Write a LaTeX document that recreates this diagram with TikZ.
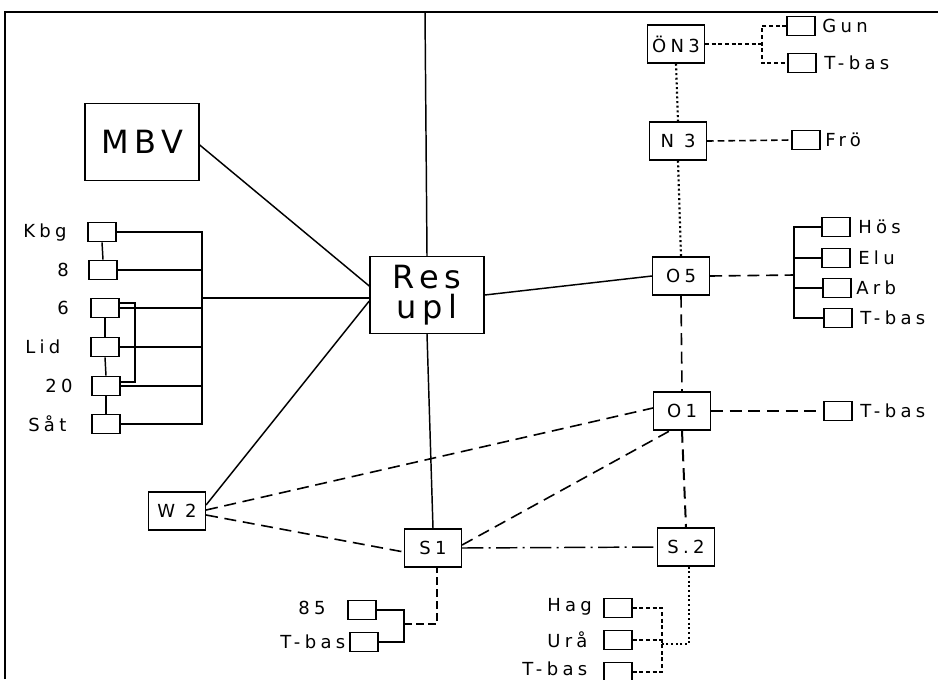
\documentclass[tikz,border=0pt]{standalone}
\usepackage{fontspec}
\usetikzlibrary{calc}
\newfontfamily\plotfont[LetterSpace=24]{DejaVu Sans}
\newfontfamily\plotbig[LetterSpace=18]{DejaVu Sans}
\begin{document}
\begin{tikzpicture}[x=0.75pt,y=-0.75pt,
  box/.style={draw,line width=1.1pt,inner sep=0pt,font=\plotfont\fontsize{13.5}{13.5}\selectfont},
  big/.style={box,minimum width=85.5pt,minimum height=57.5pt,font=\plotbig\fontsize{24}{23}\selectfont},
  mid/.style={box,minimum width=42.5pt,minimum height=28.5pt},
  sm/.style={draw,line width=1pt,minimum width=21pt,minimum height=14.5pt,inner sep=0pt},
  lbl/.style={inner sep=0pt,anchor=west,font=\plotfont\fontsize{13.5}{13.5}\selectfont},
  ln/.style={line width=1.1pt},
  dsh/.style={line width=1.2pt,dash pattern=on 9pt off 5pt},
  dot/.style={line width=1.6pt,dash pattern=on 1.5pt off 2pt},
  sdsh/.style={line width=1.2pt,dash pattern=on 3pt off 2pt},
  dd/.style={line width=1.1pt,dash pattern=on 16pt off 4pt on 1.5pt off 4pt}]
\useasboundingbox (0,0) rectangle (938,679);
\fill[white] (0,0) rectangle (938,679);
% frame
\coordinate (fbl) at (5,679);
\coordinate (ftl) at (5,12);
\coordinate (ftr) at (938,12);
\draw[line width=1.8pt] (fbl) -- (ftl) -- (ftr);

% main nodes
\node[big] (mbv) at (142,142) {MBV};
\node[big,align=center] (res) at (427,295) {Res\\upl};
\node[mid] (on3) at (676,44) {ÖN3};
\node[mid] (n3) at (678,141) {N 3};
\node[mid] (o5) at (681,276) {O5};
\node[mid] (o1) at (682,411) {O1};
\node[mid] (s2) at (686,547) {S.2};
\node[mid] (s1) at (433,548) {S1};
\node[mid] (w2) at (177,511) {W 2};

% right small boxes
\node[sm] (gun) at (801,26) {};   \node[lbl] (gunl) at (822,26) {Gun};
\node[sm] (tba) at (802,63) {};   \node[lbl] (tbal) at (824,63) {T-bas};
\node[sm] (fro) at (806,140) {};  \node[lbl] (frol) at (825,140) {Frö};
\node[sm] (hos) at (836,227) {};  \node[lbl] (hosl) at (858,227) {Hös};
\node[sm] (elu) at (836,258) {};  \node[lbl] (elul) at (858,258) {Elu};
\node[sm] (arb) at (837,288) {};  \node[lbl] (arbl) at (856,288) {Arb};
\node[sm] (tbb) at (838,318) {};  \node[lbl] (tbbl) at (860,318) {T-bas};
\node[sm] (tbc) at (838,411) {};  \node[lbl] (tbcl) at (860,411) {T-bas};

% left cluster
\node[sm] (kbg) at (102,232) {};  \node[lbl] (kbgl) at (23,233) {Kbg};
\node[sm] (b8) at (103,270) {};   \node[lbl] (b8l) at (57,270) {8};
\node[sm] (b6) at (105,308) {};   \node[lbl] (b6l) at (57,308) {6};
\node[sm] (lid) at (105,347) {};  \node[lbl] (lidl) at (25,347) {Lid};
\node[sm] (b20) at (106,386) {};  \node[lbl] (b20l) at (45,386) {20};
\node[sm] (sat) at (106,424) {};  \node[lbl] (satl) at (28,424) {Såt};

% bottom boxes
\node[sm] (b85) at (362,610) {};  \node[lbl] (b85l) at (298,608) {85};
\node[sm] (tbd) at (364,642) {};  \node[lbl] (tbdl) at (280,642) {T-bas};
\node[sm] (hag) at (618,608) {};  \node[lbl] (hagl) at (547,607) {Hag};
\node[sm] (ura) at (618,640) {};  \node[lbl] (ural) at (547,640) {Urå};
\node[sm] (tbe) at (618,672) {};  \node[lbl] (tbel) at (522,669) {T-bas};

% trunk through Res upl
\coordinate (top) at (425,12);
\draw[ln] (top) -- (res.north);
\draw[ln] (res.south) -- (s1.north);

% solid connectors to Res upl
\draw[ln] ($(mbv.east)+(0,3)$) -- ($(res.west)+(0,-9)$);
\draw[ln] ($(w2.east)+(0,-6)$) -- ($(res.west)+(0,6)$);
\draw[ln] (res.east) -- (o5.west);

% dashed web
\draw[dsh] ($(w2.east)+(0,-1)$) -- ($(o1.west)+(0,-3)$);
\draw[dsh] ($(w2.east)+(0,4)$) -- ($(s1.west)+(0,4)$);
\draw[dsh] ($(s1.east)+(0,-3)$) -- ($(o1.south)+(-12,0)$);
\draw[dd] (s1.east) -- (s2.west);
\draw[dsh] (o5.south) -- (o1.north);
\draw[dsh,line width=1.5pt] (o1.south) -- (s2.north);
\draw[dot] (on3.south) -- (n3.north);
\draw[dot] (n3.south) -- (o5.north);

% ON3 branch
\coordinate (on3j) at (762,44);
\draw[sdsh] (on3.east) -- (on3j);
\draw[sdsh] (gun.west) -| (on3j) |- (tba.west);
% N3 branch
\draw[dsh,dash pattern=on 5pt off 3pt] (n3.east) -- (fro.west);
% O5 branch
\coordinate (o5j) at (794,275);
\coordinate (o5t) at (794,228);
\coordinate (o5b) at (794,318);
\draw[dsh] (o5.east) -- (o5j);
\draw[ln] (hos.west) -- (hos.west -| o5t) -- (o5b) -- (tbb.west);
\draw[ln] (elu.west) -- (elu.west -| o5t);
\draw[ln] (arb.west) -- (arb.west -| o5t);
% O1 branch
\draw[dsh] (o1.east) -- (tbc.west);

% left cluster connectors
\coordinate (bust) at (202,232);
\coordinate (bus) at (202,298);
\draw[ln] (kbg.east) -- (bust) -- (sat.east -| bust) -- (sat.east);
\draw[ln] (b8.east) -- (b8.east -| bust);
\draw[ln] (b6.east) -- (b6.east -| bust);
\draw[ln] (lid.east) -- (lid.east -| bust);
\draw[ln] (b20.east) -- (b20.east -| bust);
\draw[ln] (kbg.south) -- (b8.north);
\draw[ln] (b6.south) -- (lid.north);
\draw[ln] (lid.south) -- (b20.north);
\draw[ln] (b20.south) -- (sat.north);
\coordinate (lp1) at (135,303);
\coordinate (lp2) at (135,382);
\draw[ln] (b6.east |- lp1) -- (lp1) -- (lp2) -- (b20.east |- lp2);
\draw[ln] (bus) -- (res.west |- bus);

% S1 bottom branch
\coordinate (s1j) at (404,624);
\coordinate (s1c) at (437,624);
\draw[ln] (b85.east) -| (s1j);
\draw[ln] (tbd.east) -| (s1j);
\draw[sdsh,dash pattern=on 6pt off 3pt] (s1j) -- (s1c) -- (s1c |- s1.south);

% S2 bottom branch
\coordinate (s2j) at (662,644);
\coordinate (s2c) at (689,644);
\draw[dot] (s2c |- s2.south) -- (s2c) -- (s2j);
\draw[sdsh] (hag.east) -| (s2j);
\draw[sdsh] (tbe.east) -| (s2j);
\draw[sdsh] (ura.east) -- (ura.east -| s2j);
\end{tikzpicture}
\end{document}
